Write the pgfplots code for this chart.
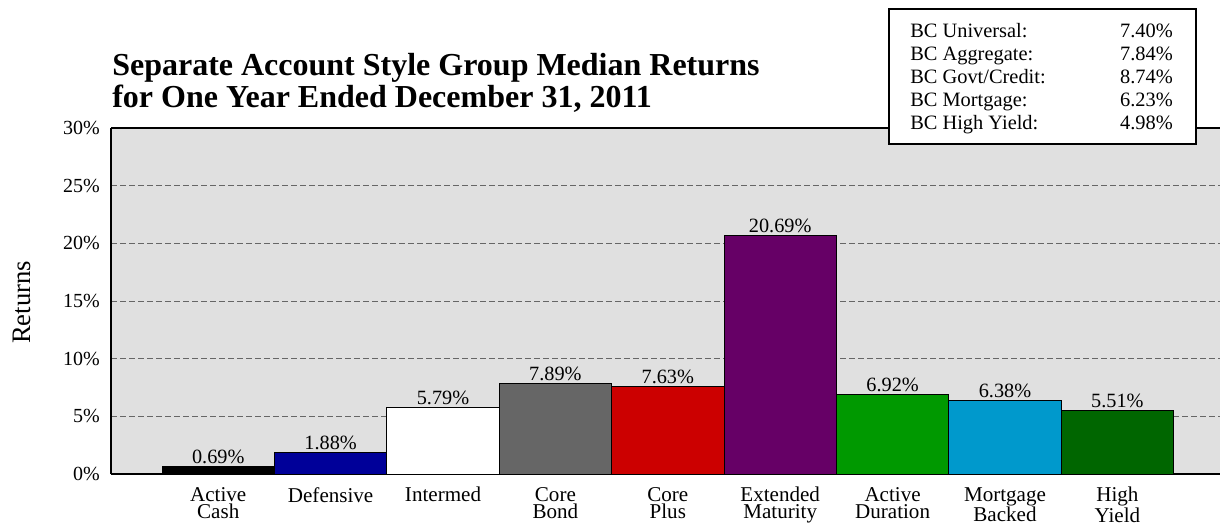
\documentclass[border=0pt]{standalone}
\usepackage{pgfplots}
\pgfplotsset{compat=1.18}
\usepackage{fontspec}
\setmainfont{Liberation Serif}
\definecolor{bg}{HTML}{E0E0E0}
\definecolor{c1}{HTML}{000000}
\definecolor{c2}{HTML}{000099}
\definecolor{c3}{HTML}{FFFFFF}
\definecolor{c4}{HTML}{666666}
\definecolor{c5}{HTML}{CC0000}
\definecolor{c6}{HTML}{660066}
\definecolor{c7}{HTML}{009900}
\definecolor{c8}{HTML}{0099CC}
\definecolor{c9}{HTML}{006600}
\begin{document}
\begin{tikzpicture}[x=1pt,y=1pt]
\path[use as bounding box] (0,0) rectangle (915,393.75);
\begin{axis}[
  at={(83.25pt,38.25pt)}, anchor=south west,
  scale only axis, width=831.75pt, height=259.5pt,
  xmin=-0.954, xmax=8.913, ymin=0, ymax=30,
  axis lines*=left,
  axis line style={line width=0.8pt},
  axis background/.style={fill=bg},
  ybar, bar shift=0pt, bar width=1,
  xtick={0,1,2,3,4,5,6,7,8},
  xticklabels={Active\\Cash, Defensive, Intermed, Core\\Bond, Core\\Plus, Extended\\Maturity, Active\\Duration, Mortgage\\Backed, High\\Yield},
  xticklabel style={align=center, font=\fontsize{15.8}{12.6}\selectfont, anchor=north, inner sep=0pt, yshift=-9.8pt},
  ytick={0,5,10,15,20,25,30},
  yticklabels={0\%,5\%,10\%,15\%,20\%,25\%,30\%},
  yticklabel style={font=\fontsize{15}{16}\selectfont, anchor=east, inner sep=0pt, xshift=-8.25pt},
  major tick length=0pt,
  ymajorgrids,
  grid style={dash pattern=on 4.5pt off 2.25pt, black!60, line width=0.6pt},
  nodes near coords={\pgfmathprintnumber[fixed,precision=2,fixed zerofill]{\pgfplotspointmeta}\%},
  nodes near coords style={font=\fontsize{15.2}{16}\selectfont, /pgf/number format/assume math mode=true, inner sep=1.5pt},
  clip=false,
]
\addplot[fill=c1, draw=black, line width=0.6pt] coordinates {(0,0.69)};
\addplot[fill=c2, draw=black, line width=0.6pt] coordinates {(1,1.88)};
\addplot[fill=c3, draw=black, line width=0.6pt] coordinates {(2,5.79)};
\addplot[fill=c4, draw=black, line width=0.6pt] coordinates {(3,7.89)};
\addplot[fill=c5, draw=black, line width=0.6pt] coordinates {(4,7.63)};
\addplot[fill=c6, draw=black, line width=0.6pt] coordinates {(5,20.69)};
\addplot[fill=c7, draw=black, line width=0.6pt] coordinates {(6,6.92)};
\addplot[fill=c8, draw=black, line width=0.6pt] coordinates {(7,6.38)};
\addplot[fill=c9, draw=black, line width=0.6pt] coordinates {(8,5.51)};
\draw[line width=0.8pt] (rel axis cs:0,1) -- (rel axis cs:1,1);
\end{axis}
\node[rotate=90, font=\fontsize{20}{22}\selectfont, inner sep=0pt] at (16.5,167) {Returns};
\node[anchor=base west, font=\bfseries\fontsize{24}{24}\selectfont, inner sep=0pt] at (84,336.75) {Separate Account Style Group Median Returns};
\node[anchor=base west, font=\bfseries\fontsize{24}{24}\selectfont, inner sep=0pt] at (84,312.75) {for One Year Ended December 31, 2011};
\draw[line width=0.8pt, fill=white] (666.75,285.75) rectangle (897,387);
\foreach \lab/\val/\yy in {BC Universal:/7.40\%/365.25, BC Aggregate:/7.84\%/348, BC Govt\slash Credit:/8.74\%/330.75, BC Mortgage:/6.23\%/313.5, BC High Yield:/4.98\%/296.25}{
  \node[anchor=base west, font=\fontsize{15.3}{16}\selectfont, inner sep=0pt] at (682.5,\yy) {\lab};
  \node[anchor=base east, font=\fontsize{15.3}{16}\selectfont, inner sep=0pt] at (879.75,\yy) {\val};
}
\end{tikzpicture}
\end{document}
